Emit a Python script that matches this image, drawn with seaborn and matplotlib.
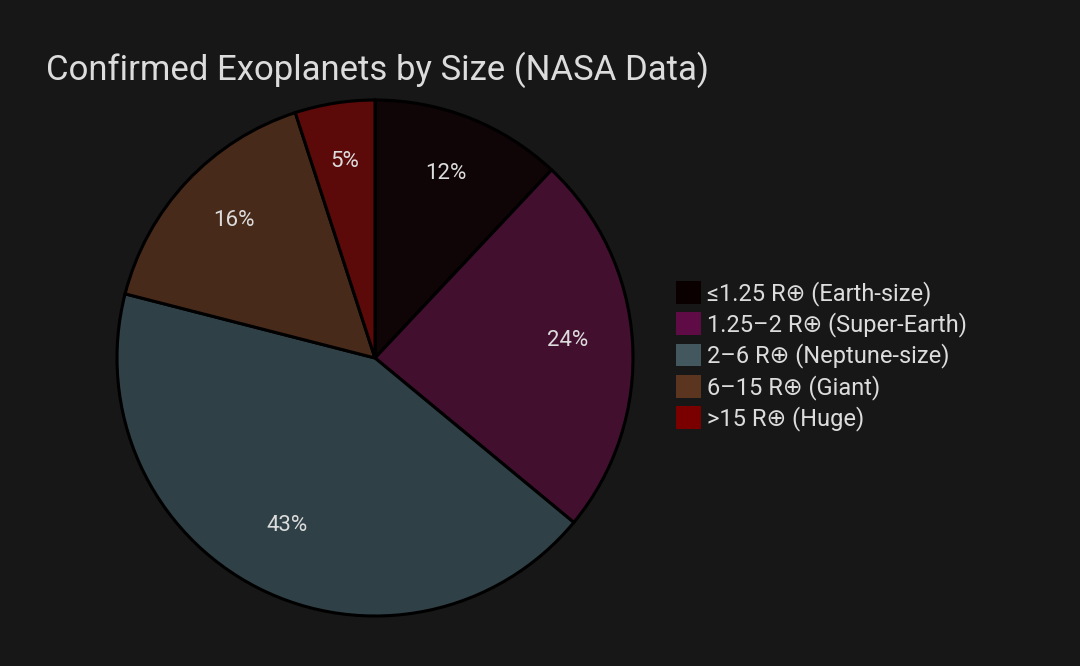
import seaborn as sns
import matplotlib.pyplot as plt
import matplotlib.transforms as mtransforms
from matplotlib.patches import Patch

# data
categories = ['≤1.25 R⊕ (Earth-size)', '1.25–2 R⊕ (Super-Earth)', '2–6 R⊕ (Neptune-size)',
              '6–15 R⊕ (Giant)', '>15 R⊕ (Huge)']
shares = [12, 24, 43, 16, 5]
wedge_colors = ['#0f0406', '#420f2f', '#2f4046', '#472a1a', '#5c0909']
legend_colors = ['#0a0000', '#5e0b46', '#43575e', '#5b3520', '#7a0000']

sns.set_theme(style='dark')
plt.rcParams['font.family'] = ['Roboto', 'DejaVu Sans']
bg = '#171717'
txt = '#dcdcdc'

fig = plt.figure(figsize=(10.8, 6.66), dpi=100, facecolor=bg)
ax = fig.add_axes([375 / 1080 - 258 / 1080, 1 - (358 + 258) / 666, 516 / 1080, 516 / 666])
ax.set_facecolor(bg)

wedges, texts, autotexts = ax.pie(
    shares, colors=wedge_colors, startangle=90, counterclock=False,
    autopct='%1.0f%%', pctdistance=0.75,
    wedgeprops=dict(edgecolor='black', linewidth=2.2, clip_on=False),
    textprops=dict(color=txt, fontsize=16))
# nudge percentage labels up a little
shift = mtransforms.offset_copy(ax.transData, fig=fig, x=0, y=5, units='dots')
for t in autotexts:
    t.set_transform(shift)
ax.set_xlim(-1, 1)
ax.set_ylim(-1, 1)
ax.set_aspect('equal')
ax.axis('off')

fig.text(46 / 1080, 1 - 70 / 666, 'Confirmed Exoplanets by Size (NASA Data)',
         color=txt, fontsize=25, va='center', ha='left')

handles = [Patch(facecolor=c, edgecolor='none') for c in legend_colors]
leg = fig.legend(handles, categories, loc='center left',
                 bbox_to_anchor=(676 / 1080, 1 - 356 / 666), frameon=False,
                 fontsize=17, labelcolor=txt, handlelength=1.05, handleheight=1.1,
                 handletextpad=0.25, labelspacing=0.27, borderpad=0, borderaxespad=0)

fig.savefig('out.png', dpi=100, facecolor=bg)
